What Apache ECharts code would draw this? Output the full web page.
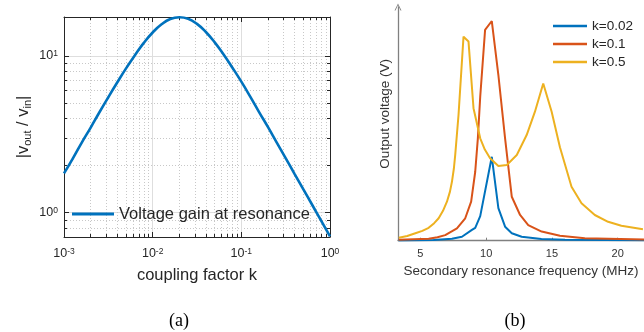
<!DOCTYPE html>
<html><head><meta charset="utf-8">
<script src="https://cdn.jsdelivr.net/npm/echarts@6/dist/echarts.min.js"></script>
<style>html,body{margin:0;padding:0;background:#fff}#c{width:644px;height:332px}</style>
</head><body><div id="c"></div>
<script>
// ---- (a) voltage gain vs coupling factor ----
const kValues = [0.001,0.00126,0.00158,0.002,0.00251,0.00316,0.00398,0.00501,0.00631,0.00794,
  0.01,0.0126,0.0158,0.02,0.0251,0.0316,0.0398,0.0501,0.0631,0.0794,
  0.1,0.126,0.158,0.2,0.251,0.316,0.398,0.501,0.631,0.794,1.0];
const gainValues = [1.78,2.22,2.79,3.49,4.37,5.45,6.76,8.32,10.1,12.1,
  14.1,15.9,17.2,17.65,17.25,16.0,14.2,12.2,10.2,8.4,
  6.85,5.5,4.4,3.51,2.8,2.23,1.77,1.41,1.12,0.89,0.707];
const xMajorTicks = [0.001,0.01,0.1,1];
const xMinorTicks = [0.002,0.003,0.004,0.005,0.006,0.007,0.008,0.009,
  0.02,0.03,0.04,0.05,0.06,0.07,0.08,0.09,0.2,0.3,0.4,0.5,0.6,0.7,0.8,0.9];
const yMajorTicks = [1,10];
const yMinorTicks = [0.8,0.9,2,3,4,5,6,7,8,9];

// ---- (b) output voltage vs secondary resonance frequency ----
const freqTicks = [5,10,15,20];
const fK002 = [3.36,6.0,7.4,8.16,8.92,9.17,9.55,10.43,10.93,11.44,11.95,12.7,14.2,16.0,22.0];
const vK002 = [0.001,0.003,0.008,0.017,0.046,0.055,0.105,0.359,0.139,0.060,0.032,0.017,0.007,0.004,0.002];
const fK01 = [3.36,5.63,6.3,6.89,7.78,8.41,8.86,9.17,9.37,9.55,9.92,10.43,10.93,11.44,11.95,12.58,13.2,14.22,15.61,17.5,22.0];
const vK01 = [0.004,0.008,0.015,0.024,0.053,0.096,0.167,0.295,0.438,0.616,0.902,0.940,0.709,0.438,0.188,0.110,0.067,0.039,0.021,0.010,0.005];
const fK05 = [3.36,4.0,4.62,5.15,5.63,6.05,6.39,6.72,7.02,7.25,7.40,7.55,7.65,7.90,8.28,8.66,9.04,9.55,9.9,10.30,10.93,11.57,12.33,13.08,13.71,14.34,14.98,15.61,16.49,17.25,18.26,19.27,20.28,21.92];
const vK05 = [0.013,0.020,0.032,0.042,0.055,0.075,0.096,0.128,0.167,0.21,0.252,0.31,0.367,0.538,0.873,0.852,0.567,0.438,0.39,0.353,0.320,0.324,0.367,0.452,0.552,0.673,0.552,0.40,0.231,0.160,0.110,0.081,0.064,0.049];

const FONT = '"Liberation Sans", Arial, sans-serif';
const INK = '#262626';
const pow10 = v => '{b|10}{sup|' + Math.round(Math.log10(v)) + '}';
const supRich = {
  b:{fontSize:12.5,lineHeight:14,color:INK,fontFamily:FONT},
  sup:{fontSize:8.5,verticalAlign:'top',lineHeight:8,color:INK,fontFamily:FONT}
};

function logX(opt){
  return Object.assign({type:'log',logBase:10,gridIndex:0,min:0.001,max:1,
    axisLine:{show:false},axisTick:{show:false},axisLabel:{show:false},splitLine:{show:false}}, opt);
}
function logY(opt){
  return Object.assign({type:'log',logBase:10,gridIndex:0,min:0.7,max:17.7,
    axisLine:{show:false},axisTick:{show:false},axisLabel:{show:false},splitLine:{show:false}}, opt);
}

const chart = echarts.init(document.getElementById('c'));
chart.setOption({
  animation:false,
  textStyle:{fontFamily:FONT},
  grid:[
    {left:64,top:17,width:266,height:220},
    {left:398,top:7,width:246,height:233.7}
  ],
  xAxis:[
    logX({position:'bottom',
      axisLine:{show:true,lineStyle:{color:INK,width:1}},
      axisTick:{show:true,inside:true,length:5,customValues:xMajorTicks,lineStyle:{color:INK}},
      axisLabel:{show:true,customValues:xMajorTicks,formatter:pow10,color:INK,fontSize:12.5,margin:10,rich:supRich},
      splitLine:{show:true,lineStyle:{color:'#dedede',width:1}},
      name:'coupling factor k',nameLocation:'middle',nameGap:30,
      nameTextStyle:{color:INK,fontSize:16.5,fontFamily:FONT}}),
    logX({position:'top',
      axisLine:{show:true,lineStyle:{color:INK,width:1}},
      axisTick:{show:true,inside:true,length:5,customValues:xMajorTicks,lineStyle:{color:INK}}}),
    logX({position:'bottom',
      axisTick:{show:true,inside:true,length:3,customValues:xMinorTicks,lineStyle:{color:INK}},
      splitLine:{show:true,lineStyle:{color:'#c8c8c8',width:1,type:[1,2]}}}),
    logX({position:'top',
      axisTick:{show:true,inside:true,length:3,customValues:xMinorTicks,lineStyle:{color:INK}}}),
    {type:'value',gridIndex:1,min:3.3,max:22,position:'bottom',
      axisLine:{show:true,lineStyle:{color:'#808080',width:1.3}},
      axisTick:{show:true,inside:true,length:3,customValues:freqTicks,lineStyle:{color:'#808080'}},
      axisLabel:{customValues:freqTicks,color:'#333',fontSize:11,margin:8},
      splitLine:{show:false},
      name:'Secondary resonance frequency (MHz)',nameLocation:'middle',nameGap:23,
      nameTextStyle:{color:'#333',fontSize:13.5,fontFamily:FONT}}
  ],
  yAxis:[
    logY({position:'left',
      axisLine:{show:true,lineStyle:{color:INK,width:1}},
      axisTick:{show:true,inside:true,length:5,customValues:yMajorTicks,lineStyle:{color:INK}},
      axisLabel:{show:true,customValues:yMajorTicks,formatter:pow10,color:INK,fontSize:12.5,margin:6,rich:supRich},
      splitLine:{show:true,lineStyle:{color:'#dedede',width:1}},
      name:'|v{sub|out} / v{sub|in}|',nameLocation:'middle',nameGap:31,
      nameTextStyle:{color:INK,fontSize:16.5,fontFamily:FONT,lineHeight:20,
        rich:{sub:{fontSize:11,verticalAlign:'bottom',lineHeight:11,color:INK,fontFamily:FONT}}}}),
    logY({position:'right',
      axisLine:{show:true,lineStyle:{color:INK,width:1}},
      axisTick:{show:true,inside:true,length:5,customValues:yMajorTicks,lineStyle:{color:INK}}}),
    logY({position:'left',
      axisTick:{show:true,inside:true,length:3,customValues:yMinorTicks,lineStyle:{color:INK}},
      splitLine:{show:true,lineStyle:{color:'#c8c8c8',width:1,type:[1,2]}}}),
    logY({position:'right',
      axisTick:{show:true,inside:true,length:3,customValues:yMinorTicks,lineStyle:{color:INK}}}),
    {type:'value',gridIndex:1,min:0,max:1,position:'left',
      axisLine:{show:true,symbol:['none','path://M0,10 L5,0 L10,10 L8.6,10 L5,2.6 L1.4,10 Z'],symbolSize:[8,7],
        lineStyle:{color:'#808080',width:1.3}},
      axisTick:{show:false},axisLabel:{show:false},splitLine:{show:false},
      name:'Output voltage (V)',nameLocation:'middle',nameGap:6,
      nameTextStyle:{color:'#333',fontSize:13.5,fontFamily:FONT,padding:[0,0,0,20]}}
  ],
  legend:[
    {data:['Voltage gain at resonance'],orient:'vertical',left:72,top:204,padding:0,
      itemWidth:42,itemHeight:3,icon:'rect',
      textStyle:{color:INK,fontSize:16.5,fontFamily:FONT,lineHeight:20}},
    {data:['k=0.02','k=0.1','k=0.5'],orient:'vertical',left:553,top:18,itemGap:2,padding:0,
      itemWidth:34,itemHeight:2.5,icon:'rect',
      textStyle:{color:'#262626',fontSize:13.5,fontFamily:FONT,lineHeight:16}}
  ],
  series:[
    {type:'line',name:'Voltage gain at resonance',xAxisIndex:0,yAxisIndex:0,
      data:kValues.map((k,i)=>[k,gainValues[i]]),showSymbol:false,smooth:true,
      color:'#0072BD',lineStyle:{width:2.6,color:'#0072BD'}},
    {type:'line',name:'k=0.02',xAxisIndex:4,yAxisIndex:4,
      data:fK002.map((f,i)=>[f,vK002[i]]),showSymbol:false,
      color:'#0072BD',lineStyle:{width:2,color:'#0072BD'}},
    {type:'line',name:'k=0.1',xAxisIndex:4,yAxisIndex:4,
      data:fK01.map((f,i)=>[f,vK01[i]]),showSymbol:false,
      color:'#D95319',lineStyle:{width:2,color:'#D95319'}},
    {type:'line',name:'k=0.5',xAxisIndex:4,yAxisIndex:4,
      data:fK05.map((f,i)=>[f,vK05[i]]),showSymbol:false,
      color:'#EDB120',lineStyle:{width:2,color:'#EDB120'}}
  ],
  graphic:[
    {type:'text',x:179,y:321,style:{text:'(a)',font:'18px "Liberation Serif", serif',fill:'#000',align:'center',verticalAlign:'middle'}},
    {type:'text',x:515,y:321,style:{text:'(b)',font:'18px "Liberation Serif", serif',fill:'#000',align:'center',verticalAlign:'middle'}}
  ]
});
</script></body></html>
